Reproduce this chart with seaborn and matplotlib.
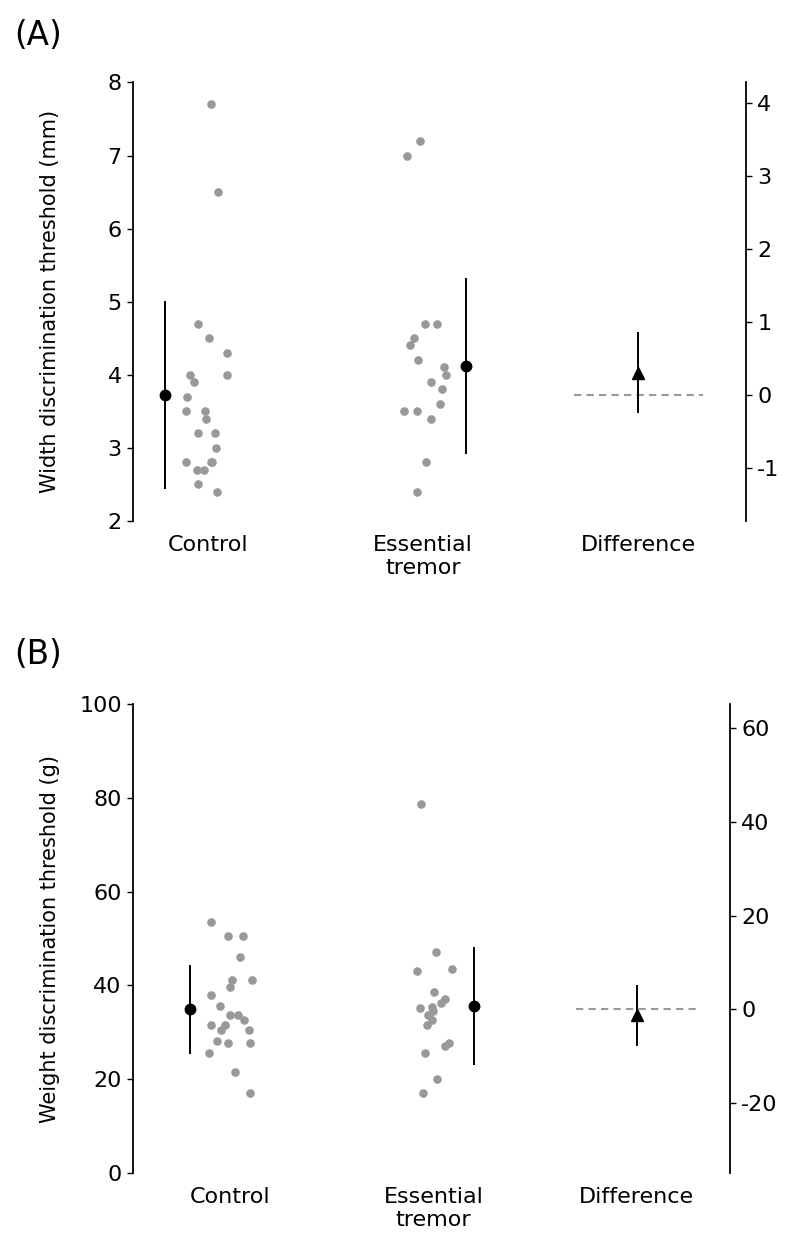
import numpy as np
import pandas as pd
import matplotlib
matplotlib.use("Agg")
import matplotlib.pyplot as plt
import seaborn as sns

# ---------------- data ----------------
groups = ["Control", "Essential\ntremor"]
categories = ["Control", "Essential\ntremor", "Difference"]

width_control = [7.7, 6.5, 4.7, 4.5, 4.3, 4.0, 4.0, 3.9, 3.7, 3.5, 3.5, 3.4,
                 3.2, 3.2, 3.0, 2.8, 2.8, 2.8, 2.7, 2.7, 2.5, 2.4]
width_et = [7.2, 7.0, 4.7, 4.7, 4.5, 4.4, 4.2, 4.1, 4.0, 3.9, 3.8, 3.6,
            3.5, 3.5, 3.4, 2.8, 2.4]
width_means = [3.72, 4.12]
width_sds = [1.29, 1.20]
width_diff = [0.31]
width_diff_ci = [-0.24, 0.87]
width_yticks = [2, 3, 4, 5, 6, 7, 8]
width_diff_ticks = [-1, 0, 1, 2, 3, 4]

weight_control = [53.6, 50.6, 50.6, 46.1, 41.2, 41.2, 39.6, 38.0, 35.6, 33.6,
                  33.6, 32.6, 31.6, 31.6, 30.6, 30.6, 28.2, 27.7, 27.7, 25.7,
                  21.6, 17.1]
weight_et = [78.7, 47.1, 43.5, 43.0, 38.6, 37.1, 36.2, 35.5, 35.1, 34.6,
             33.7, 32.6, 31.6, 27.7, 27.1, 25.6, 20.1, 17.1]
weight_means = [34.9, 35.6]
weight_sds = [9.5, 12.5]
weight_diff = [-1.2]
weight_diff_ci = [-7.8, 5.2]
weight_yticks = [0, 20, 40, 60, 80, 100]
weight_diff_ticks = [-20, 0, 20, 40, 60]

# ---------------- style ----------------
sns.set_style("ticks")
plt.rcParams["font.family"] = ["DejaVu Sans"]
plt.rcParams.update({
    "text.color": "black",
    "axes.labelcolor": "black",
    "axes.edgecolor": "black",
    "xtick.color": "black",
    "ytick.color": "black",
    "axes.unicode_minus": False,
})

fig = plt.figure(figsize=(8.0, 12.49), dpi=100)

GREY = "#999999"
TICK_FS = 16
LABEL_FS = 15


def panel(rect, ctrl, et, means, sds, diff, ci, ylim, yticks, dticks,
          ylabel, xlim, seed):
    ax = fig.add_axes(rect)
    df = pd.DataFrame({
        "group": [groups[0]] * len(ctrl) + [groups[1]] * len(et),
        "value": list(ctrl) + list(et),
    })
    np.random.seed(seed)
    sns.stripplot(data=df, x="group", y="value", order=categories,
                  color=GREY, size=6.2, jitter=0.11, linewidth=0, ax=ax,
                  zorder=2)
    offs = [-0.2, 0.2]
    for i in range(2):
        ax.errorbar(i + offs[i], means[i], yerr=sds[i], fmt="o",
                    color="black", ms=7.5, elinewidth=1.4, capsize=0,
                    zorder=3)
    ax.set_xlim(xlim)
    ax.set_ylim(ylim)
    ax.set_yticks(yticks)
    ax.set_xlabel("")
    ax.set_ylabel(ylabel, fontsize=LABEL_FS)
    axw_px = rect[2] * 800
    ax.yaxis.set_label_coords(-(133 - 60) / axw_px, 0.5)
    for s in ["top", "right", "bottom"]:
        ax.spines[s].set_visible(False)
    ax.spines["left"].set_linewidth(1.3)
    ax.tick_params(axis="x", length=0, labelsize=TICK_FS, pad=10)
    ax.tick_params(axis="y", length=4, width=1, labelsize=TICK_FS, pad=4)

    ax2 = ax.twinx()
    ax2.set_ylim(ylim[0] - means[0], ylim[1] - means[0])
    ax2.set_yticks(dticks)
    for s in ["top", "left", "bottom"]:
        ax2.spines[s].set_visible(False)
    ax2.spines["right"].set_linewidth(1.3)
    ax2.tick_params(axis="y", length=4, width=1, labelsize=TICK_FS, pad=4)
    ax2.plot([1.7, 2.3], [0, 0], ls=(0, (3.5, 2.5)), color=GREY, lw=1.5,
             zorder=1)
    ax2.errorbar([2], diff, yerr=[[diff[0] - ci[0]], [ci[1] - diff[0]]],
                 fmt="^", color="black", ms=8, elinewidth=1.4, capsize=0,
                 zorder=3)
    ax2.set_xlim(xlim)
    return ax, ax2


panel([0.166, 0.583, 0.7665, 0.351], width_control, width_et, width_means,
      width_sds, width_diff, width_diff_ci, (2, 8), width_yticks,
      width_diff_ticks, "Width discrimination threshold (mm)",
      (-0.35, 2.5), 3)

panel([0.166, 0.0608, 0.7465, 0.3755], weight_control, weight_et,
      weight_means, weight_sds, weight_diff, weight_diff_ci, (0, 100),
      weight_yticks, weight_diff_ticks, "Weight discrimination threshold (g)",
      (-0.48, 2.46), 7)

fig.text(0.018, 0.985, "(A)", fontsize=23.5, va="top", ha="left")
fig.text(0.018, 0.489, "(B)", fontsize=23.5, va="top", ha="left")

fig.savefig("out.png", dpi=100)
